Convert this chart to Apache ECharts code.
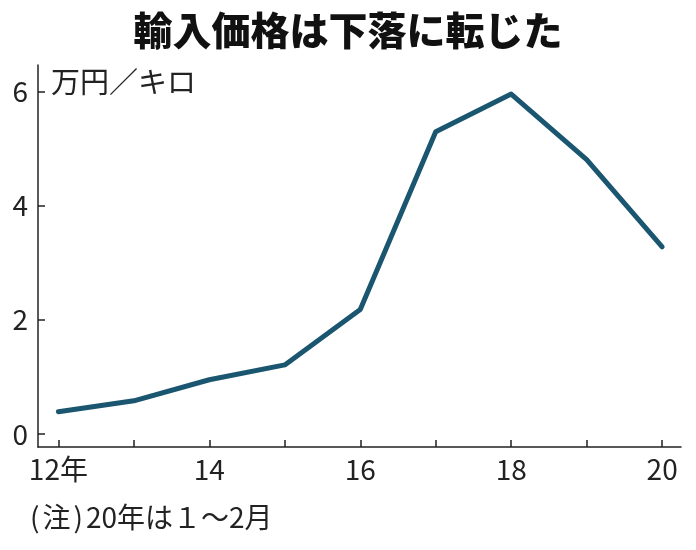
<!DOCTYPE html>
<html>
<head>
<meta charset="utf-8">
<script src="https://cdn.jsdelivr.net/npm/echarts@6/dist/echarts.min.js"></script>
<style>
  html, body { margin: 0; padding: 0; background: #fff; }
  #chart { width: 696px; height: 550px; }
</style>
</head>
<body>
<div id="chart"></div>
<script>
// 輸入価格（万円／キロ）
const years = [12, 13, 14, 15, 16, 17, 18, 19, 20]
const prices = [0.39, 0.58, 0.95, 1.21, 2.18, 5.30, 5.96, 4.81, 3.28]
const yTicks = [0, 2, 4, 6]
const xLabelYears = [12, 14, 16, 18, 20]

const font = '"Noto Sans CJK JP", sans-serif'
const chart = echarts.init(document.getElementById('chart'))

chart.setOption({
  animation: false,
  title: {
    text: '輸入価格は下落に転じた',
    left: 'center',
    top: 6,
    textStyle: {
      fontFamily: font,
      fontSize: 39,
      fontWeight: 900,
      color: '#111'
    }
  },
  graphic: [
    {
      type: 'text',
      left: 51,
      top: 67,
      style: { text: '万円／キロ', font: '29px ' + font, fill: '#222' }
    },
    {
      type: 'text',
      left: 30,
      top: 503,
      style: {
        text: '{p|(}注{p|)}20年は１～2月',
        font: '28px ' + font,
        fill: '#222',
        rich: {
          p: { fontFamily: font, fontSize: 28, padding: [0, 3, 0, 3] }
        }
      }
    }
  ],
  grid: {
    left: 38,
    right: 15,
    top: 65,
    bottom: 103,
    containLabel: false
  },
  xAxis: {
    type: 'value',
    min: 11.73,
    max: 20.25,
    splitLine: { show: false },
    axisLine: { show: true, onZero: false, lineStyle: { color: '#222', width: 1.5 } },
    axisTick: {
      show: true,
      inside: true,
      length: 7,
      customValues: years,
      lineStyle: { color: '#222', width: 1.5 }
    },
    axisLabel: {
      customValues: xLabelYears,
      margin: 8,
      fontFamily: font,
      fontSize: 28,
      color: '#222',
      formatter: v => (v === 12 ? '12年' : String(v))
    }
  },
  yAxis: {
    type: 'value',
    min: -0.23,
    max: 6.47,
    splitLine: { show: false },
    axisLine: { show: true, onZero: false, lineStyle: { color: '#222', width: 1.5 } },
    axisTick: {
      show: true,
      inside: true,
      length: 7,
      customValues: yTicks,
      lineStyle: { color: '#222', width: 1.5 }
    },
    axisLabel: {
      customValues: yTicks,
      margin: 10,
      fontFamily: font,
      fontSize: 28,
      color: '#222'
    }
  },
  series: [{
    type: 'line',
    data: years.map((y, i) => [y, prices[i]]),
    symbol: 'none',
    lineStyle: { color: '#1b5670', width: 5, cap: 'round', join: 'round' }
  }]
})
</script>
</body>
</html>
